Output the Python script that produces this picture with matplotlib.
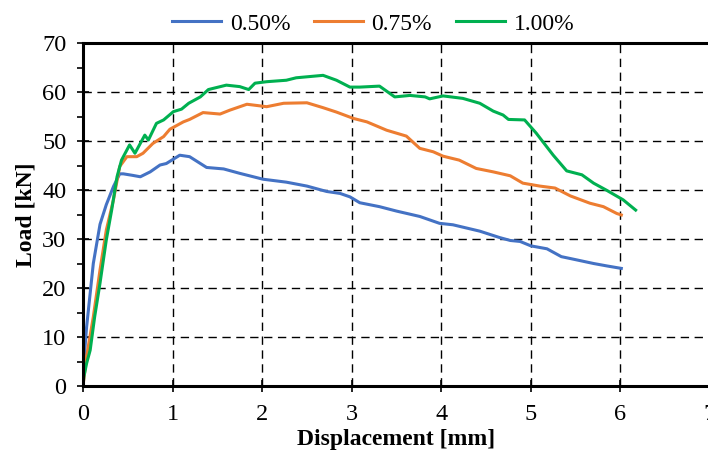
import numpy as np
import matplotlib
matplotlib.use("Agg")
import matplotlib.pyplot as plt
from matplotlib.ticker import MultipleLocator

# load-displacement curves
disp_050 = [0, 0.01, 0.04, 0.115, 0.19, 0.26, 0.34, 0.41, 0.45, 0.55, 0.64, 0.75, 0.86, 0.93, 1.08,
            1.19, 1.38, 1.57, 1.75, 2.01, 2.27, 2.5, 2.72, 2.87, 2.98, 3.09, 3.31, 3.5, 3.76, 3.98,
            4.13, 4.43, 4.65, 4.77, 4.88, 5.0, 5.18, 5.34, 5.47, 5.7, 5.85, 6.01]
load_050 = [0, 5, 12, 25, 33, 37, 40.7, 43.3, 43.3, 43.0, 42.7, 43.7, 45.1, 45.4, 47.1,
            46.8, 44.6, 44.3, 43.4, 42.2, 41.6, 40.8, 39.7, 39.3, 38.6, 37.4, 36.6, 35.7, 34.6, 33.2,
            32.9, 31.6, 30.3, 29.7, 29.5, 28.6, 28.0, 26.4, 25.9, 25.0, 24.5, 24.0]

disp_075 = [0, 0.04, 0.115, 0.19, 0.26, 0.34, 0.41, 0.49, 0.6, 0.67, 0.78, 0.9, 0.97, 1.12, 1.19,
            1.34, 1.53, 1.64, 1.83, 2.05, 2.24, 2.5, 2.68, 2.83, 3.02, 3.17, 3.39, 3.61, 3.76, 3.91,
            4.02, 4.2, 4.39, 4.58, 4.77, 4.91, 5.1, 5.27, 5.44, 5.66, 5.81, 5.96, 6.01]
load_075 = [0, 6, 14.1, 23.7, 31.8, 38, 44.8, 46.8, 46.8, 47.5, 49.5, 50.9, 52.4, 53.9, 54.4,
            55.8, 55.5, 56.3, 57.5, 57.0, 57.7, 57.8, 56.8, 55.9, 54.6, 53.9, 52.2, 51.0, 48.5, 47.8,
            46.9, 46.1, 44.4, 43.7, 42.9, 41.4, 40.8, 40.4, 38.8, 37.3, 36.6, 35.2, 34.9]

disp_100 = [0, 0.01, 0.04, 0.08, 0.13, 0.19, 0.26, 0.32, 0.38, 0.43, 0.52, 0.58, 0.69, 0.73, 0.82,
            0.9, 1.01, 1.1, 1.18, 1.31, 1.4, 1.6, 1.75, 1.85, 1.92, 2.05, 2.27, 2.38, 2.68, 2.83,
            2.98, 3.09, 3.31, 3.48, 3.65, 3.82, 3.87, 4.02, 4.24, 4.43, 4.58, 4.69, 4.75, 4.93, 5.06,
            5.25, 5.4, 5.57, 5.7, 5.85, 6.03, 6.17]
load_100 = [0, 1.9, 4.6, 7.3, 14.1, 21, 29.8, 35.9, 42.7, 46.1, 49.2, 47.5, 51.2, 50.2, 53.6,
            54.3, 56.0, 56.5, 57.7, 59.0, 60.5, 61.4, 61.1, 60.5, 61.8, 62.1, 62.4, 62.9, 63.4, 62.4,
            61.0, 61.0, 61.2, 59.0, 59.3, 59.0, 58.6, 59.2, 58.7, 57.7, 56.1, 55.3, 54.4, 54.3, 51.6,
            47.1, 43.9, 43.1, 41.4, 39.9, 38.0, 35.9]

labels = ["0.50%", "0.75%", "1.00%"]
colors = ["#4472C4", "#ED7D31", "#00B050"]

plt.rcParams['font.family'] = ['Liberation Serif', 'DejaVu Serif']

fig = plt.figure(figsize=(7.08, 4.53), dpi=100)
ax = fig.add_axes([83/708, 67/453, 627/708, 343/453])

for d, l, lab, c in zip([disp_050, disp_075, disp_100], [load_050, load_075, load_100], labels, colors):
    ax.plot(d, l, color=c, lw=2.2, label=lab, solid_joinstyle='round')

ax.set_xlim(0, 7)
ax.set_ylim(0, 70)
ax.xaxis.set_major_locator(MultipleLocator(1))
ax.yaxis.set_major_locator(MultipleLocator(10))
ax.yaxis.set_minor_locator(MultipleLocator(5))
ax.grid(True, which='major', color='black', linestyle=(0, (6, 4)), lw=1.0)
ax.set_axisbelow(True)

for s in ['left', 'bottom', 'top']:
    ax.spines[s].set_linewidth(2.2)
ax.spines['right'].set_visible(False)

ax.tick_params(axis='both', which='major', direction='inout', length=8, width=1.2, labelsize=17.5)
ax.tick_params(axis='y', which='major', pad=8)
ax.tick_params(axis='x', which='major', pad=9)
ax.tick_params(axis='y', which='minor', direction='out', length=4, width=1.2)

ax.set_xlabel("Displacement [mm]", fontsize=17, fontweight='bold', labelpad=3)
ax.set_ylabel("Load [kN]", fontsize=17, fontweight='bold', labelpad=4)

fig.legend(loc='center', bbox_to_anchor=(373/708, 1 - 24/453), ncol=3, frameon=False,
           fontsize=17, handlelength=2.1, handletextpad=0.35, columnspacing=1.0)

fig.savefig("out.png", dpi=100)
